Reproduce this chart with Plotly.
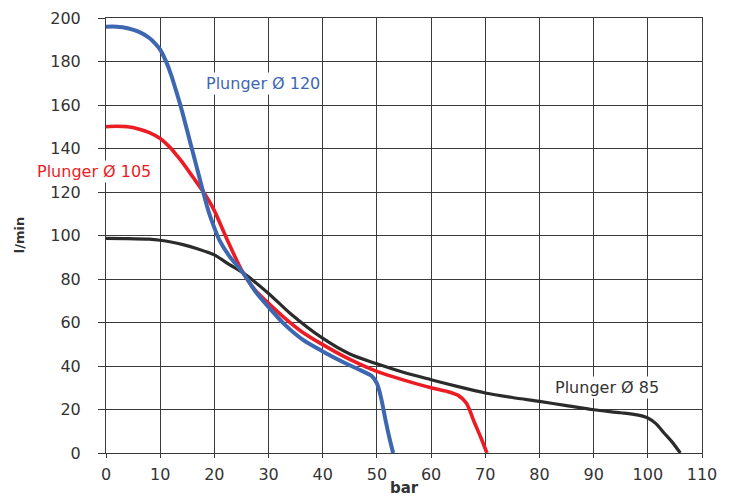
import plotly.graph_objects as go

# Plunger Ø 120 (blue)
x_120 = [0, 2, 4, 6, 8, 9, 10, 11, 12, 13, 14, 15, 16, 17, 17.9, 19, 19.9, 21, 22.8, 25.3, 27.5, 29.9, 33, 36.3, 40, 44, 47, 49, 50, 50.8, 51.6, 52.3, 53]
y_120 = [196, 196, 195.3, 193.7, 190.8, 188.5, 185.5, 180.5, 174, 166, 157.5, 148, 138.5, 129, 120.3, 110.5, 104.2, 97.5, 90.4, 82.8, 74.5, 67.4, 59, 52.1, 46.7, 41.5, 38, 35.5, 32, 25, 15, 7, 0]

# Plunger Ø 105 (red)
x_105 = [0, 2, 4, 6, 8, 10, 11, 12, 13, 14.2, 16, 17.9, 19.9, 22.2, 25.3, 27.5, 29.9, 33, 36, 40, 45, 50, 55, 60, 63, 65, 66.5, 68, 69.2, 70.3]
y_105 = [150, 150.2, 150, 149, 147.3, 144.6, 142.5, 140, 137, 133.3, 127, 120.3, 111.9, 99, 82.8, 75, 69, 62, 56, 49.8, 43, 37.5, 33.5, 30, 28.3, 26.5, 23, 14, 7, 0]

# Plunger Ø 85 (black)
x_85 = [0, 4, 8, 10, 12, 14.2, 17, 19.9, 22.8, 25.3, 29.9, 33.9, 39.9, 45, 50, 55, 60, 65, 70, 75, 80, 85, 90, 95, 98, 100, 101.5, 103, 104.5, 106]
y_85 = [98.7, 98.6, 98.3, 97.8, 97, 95.8, 93.8, 91.2, 86.6, 82.8, 73.6, 64.4, 52.9, 45.5, 41, 37, 33.7, 30.5, 27.6, 25.5, 23.7, 21.8, 19.9, 18.5, 17.5, 16.1, 13.5, 9.2, 5, 0]

series_names = ["Plunger Ø 120", "Plunger Ø 105", "Plunger Ø 85"]
x_ticks = list(range(0, 111, 10))
y_ticks = list(range(0, 201, 20))

BLUE = "#3e67b1"
RED = "#ec1c24"
BLACK = "#2b2b2b"
GRID = "#3a3a3a"
TXT = "#333333"
FONT = "DejaVu Sans"

fig = go.Figure()
for xs, ys, col, w, name in [
    (x_85, y_85, BLACK, 3.2, series_names[2]),
    (x_105, y_105, RED, 3.6, series_names[1]),
    (x_120, y_120, BLUE, 4, series_names[0]),
]:
    fig.add_trace(go.Scatter(x=xs, y=ys, mode="lines", name=name,
                             line=dict(color=col, width=w, shape="spline", smoothing=0.8),
                             showlegend=False, cliponaxis=True))

axis_common = dict(
    showgrid=True, gridcolor=GRID, gridwidth=1, automargin=False,
    zeroline=False, showline=True, linecolor=GRID, linewidth=1, mirror=True,
    ticks="outside", tickcolor=GRID, tickwidth=1,
    tickfont=dict(family=FONT, size=16, color=TXT),
)
fig.update_xaxes(range=[0, 110], tickvals=x_ticks, ticktext=[str(v) for v in x_ticks],
                 ticklen=4, ticklabelstandoff=3, **axis_common)
fig.update_yaxes(range=[0, 200], tickvals=y_ticks, ticktext=[str(v) for v in y_ticks],
                 ticklen=7, ticklabelstandoff=14, **axis_common)

ann_font = dict(family=FONT, size=16)
fig.add_annotation(x=29.0, y=170.1, xref="x", yref="y", text=series_names[0], showarrow=False,
                   xanchor="center", yanchor="middle",
                   font=dict(color=BLUE, **ann_font), bgcolor="white", borderpad=1)
fig.add_annotation(x=-0.0202, y=0.648, xref="paper", yref="paper", text=series_names[1], showarrow=False,
                   xanchor="center", yanchor="middle",
                   font=dict(color=RED, **ann_font), bgcolor="white", borderpad=1)
fig.add_annotation(x=92.5, y=29.9, xref="x", yref="y", text=series_names[2], showarrow=False,
                   xanchor="center", yanchor="middle",
                   font=dict(color=TXT, **ann_font), bgcolor="white", borderpad=1)

# axis titles
fig.add_annotation(x=-0.1453, y=0.5015, xref="paper", yref="paper", text="<b>l/min</b>", showarrow=False,
                   xanchor="center", yanchor="middle",
                   textangle=-90, font=dict(family=FONT, size=13, color=TXT))
fig.add_annotation(x=0.5004, y=-0.0805, xref="paper", yref="paper", text="<b>bar</b>", showarrow=False,
                   xanchor="center", yanchor="middle",
                   font=dict(family=FONT, size=15, color=TXT))

fig.update_layout(
    width=724, height=490,
    margin=dict(l=98, r=30, t=10, b=45),
    paper_bgcolor="white", plot_bgcolor="white",
    showlegend=False,
)
fig.write_html("out.html")
